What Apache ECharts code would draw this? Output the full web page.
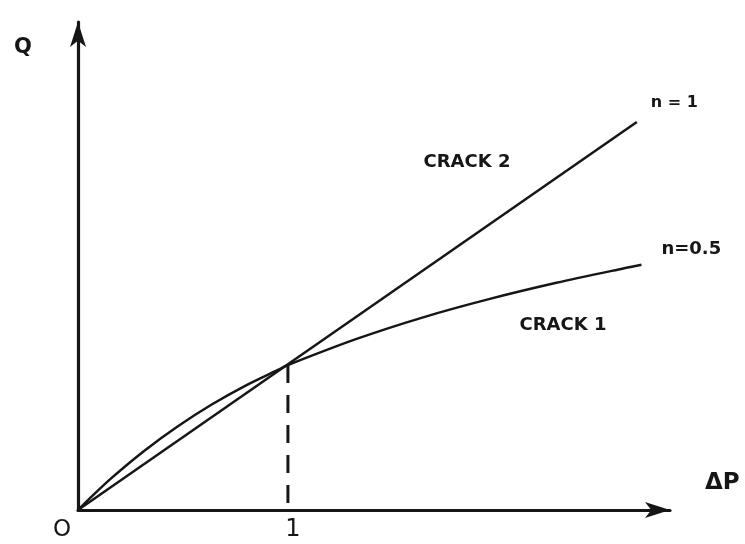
<!DOCTYPE html>
<html>
<head>
<meta charset="utf-8">
<script src="https://cdn.jsdelivr.net/npm/echarts@6/dist/echarts.min.js"></script>
<style>
  html, body { margin: 0; padding: 0; background: #ffffff; }
  #chart { width: 745px; height: 544px; }
</style>
</head>
<body>
<div id="chart"></div>
<script>
// Flow Q against pressure drop ΔP, normalised so both laws meet at ΔP = 1
const linearFlow = [[0, 0], [2.662, 2.676]];           // n = 1  (CRACK 2)
const curveDp = [0, 0.05, 0.159, 0.318, 0.476, 0.635, 0.794, 0.952, 1.0, 1.327, 1.644, 1.962, 2.279, 2.597, 2.684];
const curveQ  = [0, 0.072, 0.220, 0.411, 0.578, 0.726, 0.855, 0.966, 1.0, 1.180, 1.329, 1.456, 1.567, 1.666, 1.691]; // n = 0.5 (CRACK 1)
const crossing = [[1, 1], [1, 0]];                     // dashed drop to ΔP = 1
const xTickLabels = { 1: '1' };

const ink = '#161616';
const font = '"DejaVu Sans", "Liberation Sans", sans-serif';

const chart = echarts.init(document.getElementById('chart'), null, { renderer: 'canvas' });

chart.setOption({
  animation: false,
  backgroundColor: '#ffffff',
  grid: { left: 78, right: 75, top: 22, bottom: 34, containLabel: false },
  xAxis: {
    type: 'value', min: 0, max: 2.82, interval: 1,
    axisLine: { show: true, lineStyle: { color: ink, width: 3.2 }, symbol: ['none', 'arrow'], symbolSize: [12, 25] },
    axisTick: { show: false },
    splitLine: { show: false },
    axisLabel: {
      show: true, margin: 8, color: ink, fontSize: 24, fontFamily: font,
      padding: [0, 0, 0, 10],
      formatter: v => xTickLabels[v] || ''
    }
  },
  yAxis: {
    type: 'value', min: 0, max: 3.366,
    axisLine: { show: true, lineStyle: { color: ink, width: 3.2 }, symbol: ['none', 'arrow'], symbolSize: [12, 25] },
    axisTick: { show: false },
    splitLine: { show: false },
    axisLabel: { show: false }
  },
  series: [
    {
      name: 'n = 1', type: 'line', data: linearFlow, showSymbol: false, symbol: 'none',
      lineStyle: { color: ink, width: 2.5 },
      endLabel: { show: true, formatter: 'n = 1', color: ink, fontSize: 16, fontWeight: 'bold', fontFamily: font, align: 'left', offset: [6, -19] }
    },
    {
      name: 'n=0.5', type: 'line', smooth: 0.3, showSymbol: false, symbol: 'none',
      data: curveDp.map((x, i) => [x, curveQ[i]]),
      lineStyle: { color: ink, width: 2.5 },
      endLabel: { show: true, formatter: 'n=0.5', color: ink, fontSize: 18, fontWeight: 'bold', fontFamily: font, align: 'left', offset: [12, -16] }
    },
    {
      name: 'ΔP = 1', type: 'line', data: crossing, showSymbol: false, symbol: 'none',
      lineStyle: { color: ink, width: 3, type: [18, 12] }
    }
  ],
  graphic: [
    { type: 'text', left: 14, top: 37, style: { text: 'Q', fill: ink, font: 'bold 21px ' + font } },
    { type: 'text', left: 705, top: 472, style: { text: 'ΔP', fill: ink, font: 'bold 23px ' + font } },
    { type: 'text', left: 53, top: 519, style: { text: 'O', fill: ink, font: '23px ' + font } },
    { type: 'text', x: 467, y: 162, style: { text: 'CRACK 2', fill: ink, font: 'bold 18px ' + font, textAlign: 'center', textVerticalAlign: 'middle' } },
    { type: 'text', x: 563, y: 325, style: { text: 'CRACK 1', fill: ink, font: 'bold 18px ' + font, textAlign: 'center', textVerticalAlign: 'middle' } }
  ]
});
</script>
</body>
</html>
